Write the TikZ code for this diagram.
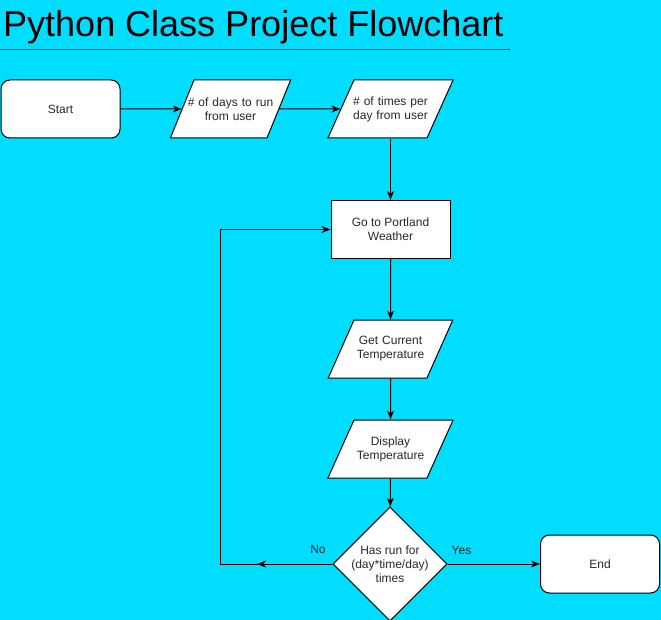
\documentclass[tikz,border=0pt]{standalone}
\usepackage{fontspec}
\setmainfont{Liberation Sans}
\usetikzlibrary{shapes.geometric,arrows.meta,calc}

\definecolor{bgcyan}{RGB}{0,221,255}
\definecolor{txtgray}{RGB}{40,40,40}

% one centred line that may stick out of the parallelogram body
\newcommand{\ioline}[1]{\makebox[0pt]{#1}}

\tikzset{
  box/.style={draw, fill=white, line width=1pt, minimum width=119pt, minimum height=58pt,
    inner sep=0pt, align=center, text=txtgray, font=\fontsize{12}{14}\selectfont},
  terminal/.style={box, rounded corners=9pt},
  io/.style={box, minimum width=0pt, text width=73pt, trapezium, trapezium left angle=44,
    trapezium right angle=136, trapezium stretches body=true},
  decision/.style={box, diamond, minimum width=113pt, minimum height=106pt},
  flow/.style={line width=1pt, -{Stealth[length=9pt,width=7pt]}},
  lbl/.style={text=txtgray, font=\fontsize{12}{14}\selectfont}
}

\begin{document}
\begin{tikzpicture}[x=1pt,y=-1pt]
\fill[bgcyan] (0,0) rectangle (661,620);
\useasboundingbox (0,0) rectangle (661,620);

% title
\node[anchor=base west, inner sep=0pt, font=\fontsize{36}{40}\selectfont] (title) at (3,37) {Python Class Project Flowchart};
\draw[line width=0.8pt, black!80] (0,49) -- (510,49);

% nodes
\node[terminal] (start) at (60.5,109) {Start};
\node[io] (days) at (230.5,109) {\ioline{\# of days to run}\\\ioline{from user}};
\node[io] (times) at (390.5,109) {\ioline{\# of times per}\\\ioline{day from user}};
\node[box] (portland) at (390.5,229.5) {Go to Portland\\Weather};
\node[io] (gettemp) at (390.5,349) {\ioline{Get Current}\\\ioline{Temperature}};
\node[io] (showtemp) at (390.5,449) {\ioline{Display}\\\ioline{Temperature}};
\node[decision] (check) at (390,564) {Has run for\\(day*time/day)\\times};
\node[terminal] (finish) at (600,564) {End};

% connectors
\draw[flow] (start) -- (days);
\draw[flow] (days) -- (times);
\draw[flow] (times) -- (portland);
\draw[flow] (portland) -- (gettemp);
\draw[flow] (gettemp) -- (showtemp);
\draw[flow] (showtemp) -- (check);
\draw[flow] (check) -- node[lbl, above=6pt, pos=0.15] (yes) {Yes} (finish);

% loop back
\coordinate (loop) at (220,564);
\draw[line width=1pt] (check.west) -- (loop);
\draw[flow] (loop) |- (portland.west);
\draw[flow] (check.west) -- ($(check.west)!0.67!(loop)$);
\node[lbl] (no) at (318,549) {No};
\end{tikzpicture}
\end{document}
